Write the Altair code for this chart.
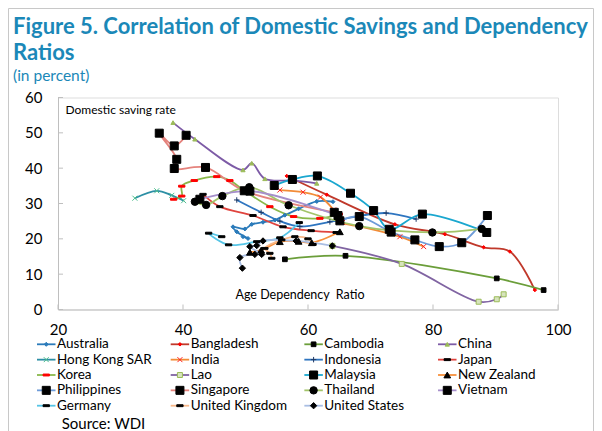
import altair as alt
import pandas as pd

SERIES = ["Australia", "Bangladesh", "Cambodia", "China",
          "Hong Kong SAR", "India", "Indonesia", "Japan",
          "Korea", "Lao", "Malaysia", "New Zealand",
          "Philippines", "Singapore", "Thailand", "Vietnam",
          "Germany", "United Kingdom", "United States"]

LINE_COLORS = ["#2b7bba", "#c0392b", "#6b9e3a", "#7d5ba6",
               "#2d8fa5", "#f28c38", "#2e75c0", "#e0443e",
               "#8ab84a", "#8064a2", "#1aa7cf", "#f7913d",
               "#6d9bd8", "#e5837d", "#a3c46a", "#a68fcb",
               "#56c5e6", "#f9b98a", "#a9bee3"]

DASH = "M-1,-0.3L1,-0.3L1,0.3L-1,0.3Z"
XMARK = "M-1,-1L1,1M-1,1L1,-1"
PLUS = "M-1,0L1,0M0,-1L0,1"

MARKER_SHAPES = ["diamond", "diamond", "square", "triangle-up",
                 XMARK, XMARK, PLUS, DASH,
                 DASH, "square", "square", "triangle-up",
                 "square", "square", "circle", "square",
                 DASH, DASH, "diamond"]
MARKER_FILLS = ["#2b7bba", "#ff0000", "#000000", "#9bbb59",
                "transparent", "transparent", "transparent", "#000000",
                "#ff0000", "#d7e4bd", "#000000", "#000000",
                "#000000", "#000000", "#000000", "#000000",
                "#000000", "#000000", "#000000"]
MARKER_STROKES = ["#2b7bba", "#ff0000", "#000000", "#9bbb59",
                  "#4fbf8f", "#ff2020", "#1f3864", "#000000",
                  "#ff0000", "#9bbb59", "#000000", "#000000",
                  "#000000", "#000000", "#000000", "#000000",
                  "#000000", "#000000", "#000000"]
MARKER_SIZES = [16, 12, 22, 18,
                25, 25, 30, 40,
                40, 25, 64, 45,
                64, 64, 55, 64,
                40, 40, 40]

# age dependency ratio (x) and domestic saving rate (y), in percent
AUSTRALIA_DEP = [64.0, 61.4, 58.5, 56.3, 54.7, 52.8, 51.0, 49.9, 48.0, 48.6, 50.4, 49.6]
AUSTRALIA_SAV = [30.5, 30.6, 28.5, 26.7, 25.3, 24.7, 24.1, 22.8, 23.4, 22.0, 20.1, 20.6]
BANGLADESH_DEP = [56.6, 63.0, 73.9, 81.9, 88.1, 92.3, 96.3]
BANGLADESH_SAV = [37.8, 32.5, 24.1, 21.3, 17.6, 16.4, 5.5]
CAMBODIA_DEP = [56.3, 66.0, 90.2, 97.7]
CAMBODIA_SAV = [14.2, 15.2, 8.8, 5.5]
CHINA_DEP = [38.4, 41.9, 49.6, 51.0, 53.1, 57.9, 61.4]
CHINA_SAV = [52.9, 48.2, 39.5, 41.4, 37.0, 36.5, 35.7]
HONGKONG_DEP = [32.3, 35.8, 38.2, 40.1]
HONGKONG_SAV = [31.5, 33.6, 32.3, 30.8]
INDIA_DEP = [55.5, 59.2, 62.0, 64.1, 65.5, 68.3, 74.7, 78.5]
INDIA_SAV = [33.8, 33.2, 31.8, 28.2, 24.6, 23.5, 20.6, 17.8]
INDONESIA_DEP = [48.6, 52.5, 55.5, 58.7, 63.5, 68.3, 72.5, 77.3]
INDONESIA_SAV = [31.0, 27.5, 25.0, 23.5, 24.8, 26.5, 27.3, 25.6]
JAPAN_DEP = [43.2, 45.9, 51.2, 56.0, 60.5, 64.5]
JAPAN_SAV = [32.6, 29.1, 26.6, 23.4, 22.3, 21.8]
KOREA_DEP = [38.5, 39.8, 39.8, 41.8, 45.4, 47.5, 49.7, 53.9, 57.7, 61.9, 65.0]
KOREA_SAV = [31.2, 32.1, 34.9, 36.5, 37.6, 36.5, 33.8, 29.1, 26.3, 25.8, 27.0]
LAO_DEP = [63.9, 75.0, 87.3, 90.2, 91.3]
LAO_SAV = [18.0, 12.9, 2.2, 2.9, 4.3]
MALAYSIA_DEP = [54.6, 57.5, 61.5, 66.8, 70.5, 73.0, 78.3, 88.6]
MALAYSIA_SAV = [35.1, 36.8, 37.8, 32.9, 28.0, 22.7, 27.0, 21.8]
NEWZEALAND_DEP = [50.7, 52.5, 55.5, 58.5, 60.6, 65.1]
NEWZEALAND_SAV = [16.2, 16.8, 19.2, 19.3, 18.9, 22.0]
PHILIPPINES_DEP = [65.1, 68.2, 73.3, 77.1, 81.0, 84.6, 88.7]
PHILIPPINES_SAV = [25.1, 26.3, 21.9, 19.7, 17.8, 18.9, 26.6]
SINGAPORE_DEP = [64.2, 49.8, 43.6, 38.6, 39.0, 36.2, 38.6, 40.5]
SINGAPORE_SAV = [27.5, 33.6, 40.2, 39.9, 42.5, 49.9, 46.3, 49.3]
THAILAND_DEP = [87.8, 79.9, 68.2, 56.9, 50.6, 46.3, 43.7, 41.9]
THAILAND_SAV = [22.8, 21.8, 23.6, 29.5, 34.6, 32.1, 29.6, 30.5]
VIETNAM_DEP = [42.7, 50.7, 64.8]
VIETNAM_SAV = [31.2, 33.5, 26.6]
GERMANY_DEP = [46.2, 44.1, 47.3, 51.8, 55.5, 58.6]
GERMANY_SAV = [20.6, 21.6, 18.3, 19.2, 20.3, 24.6]
UK_DEP = [54.2, 53.9, 53.1, 55.8, 57.9, 60.0, 60.8]
UK_SAV = [14.5, 15.9, 17.3, 19.7, 20.6, 20.0, 18.4]
US_DEP = [63.9, 58.1, 52.8, 51.8, 50.7, 52.6, 51.5, 49.1, 49.5]
US_SAV = [18.0, 19.4, 19.4, 18.1, 17.8, 15.6, 15.6, 14.7, 11.7]

X_TICKS = [20, 40, 60, 80, 100]
Y_TICKS = [0, 10, 20, 30, 40, 50, 60]

SERIES_DATA = [
    (AUSTRALIA_DEP, AUSTRALIA_SAV), (BANGLADESH_DEP, BANGLADESH_SAV),
    (CAMBODIA_DEP, CAMBODIA_SAV), (CHINA_DEP, CHINA_SAV),
    (HONGKONG_DEP, HONGKONG_SAV), (INDIA_DEP, INDIA_SAV),
    (INDONESIA_DEP, INDONESIA_SAV), (JAPAN_DEP, JAPAN_SAV),
    (KOREA_DEP, KOREA_SAV), (LAO_DEP, LAO_SAV),
    (MALAYSIA_DEP, MALAYSIA_SAV), (NEWZEALAND_DEP, NEWZEALAND_SAV),
    (PHILIPPINES_DEP, PHILIPPINES_SAV), (SINGAPORE_DEP, SINGAPORE_SAV),
    (THAILAND_DEP, THAILAND_SAV), (VIETNAM_DEP, VIETNAM_SAV),
    (GERMANY_DEP, GERMANY_SAV), (UK_DEP, UK_SAV), (US_DEP, US_SAV),
]

rows = []
for k, (name, (xs, ys)) in enumerate(zip(SERIES, SERIES_DATA)):
    for i, (xv, yv) in enumerate(zip(xs, ys)):
        rows.append({"series": name, "k": k, "i": i, "x": xv, "y": yv})
df = pd.DataFrame(rows)

legend_df = pd.DataFrame({
    "series": SERIES,
    "col": [k % 4 for k in range(len(SERIES))],
    "row": [k // 4 for k in range(len(SERIES))],
})

FONT = "Lato"
BLUE = "#1b88b8"
GRAY = "#bfbfbf"

xs = alt.Scale(domain=[20, 100], nice=False, zero=False)
ys = alt.Scale(domain=[0, 60], nice=False, zero=True)

x_axis = alt.Axis(values=X_TICKS, title="Age Dependency\u00a0 Ratio", titleX=177, titleY=-11.5,
                  titleAlign="left", titleBaseline="alphabetic", titleFontWeight="normal",
                  titleFontSize=12.5, titleColor="#000000", titleFont=FONT,
                  labelFontSize=15, labelColor="#000000", labelPadding=12.5, labelFlush=False,
                  labelOverlap=False, tickSize=0, ticks=False, grid=False,
                  domainColor=GRAY, labelFont=FONT)
y_axis = alt.Axis(values=Y_TICKS, title="Domestic saving rate", titleAngle=0, titleX=7, titleY=15.5,
                  titleAlign="left", titleBaseline="alphabetic", titleFontWeight="normal",
                  titleFontSize=12, titleColor="#000000", titleFont=FONT,
                  labelFontSize=15, labelColor="#000000", labelPadding=16, tickSize=0, ticks=False,
                  grid=False, domainColor=GRAY, labelFont=FONT)

X = alt.X("x:Q", scale=xs, axis=x_axis)
Y = alt.Y("y:Q", scale=ys, axis=y_axis)

color_s = alt.Color("series:N", scale=alt.Scale(domain=SERIES, range=LINE_COLORS), legend=None)
fill_s = alt.Fill("series:N", scale=alt.Scale(domain=SERIES, range=MARKER_FILLS), legend=None)
stroke_s = alt.Stroke("series:N", scale=alt.Scale(domain=SERIES, range=MARKER_STROKES), legend=None)
shape_s = alt.Shape("series:N", scale=alt.Scale(domain=SERIES, range=MARKER_SHAPES), legend=None)
size_s = alt.Size("series:N", scale=alt.Scale(type="ordinal", domain=SERIES, range=MARKER_SIZES), legend=None)

lines = alt.Chart(df).mark_line(interpolate="catmull-rom", strokeWidth=1.8).encode(
    x=X, y=Y, color=color_s, order="i:Q")
points = alt.Chart(df).mark_point(opacity=1, strokeWidth=1).encode(
    x=X, y=Y, fill=fill_s, stroke=stroke_s, shape=shape_s, size=size_s)

xt = alt.Chart(pd.DataFrame({"x": X_TICKS})).mark_rule(color=GRAY, strokeWidth=1).encode(
    x=X, y=alt.value(212), y2=alt.value(207))
yt = alt.Chart(pd.DataFrame({"y": Y_TICKS})).mark_rule(color=GRAY, strokeWidth=1).encode(
    y=Y, x=alt.value(0), x2=alt.value(5))

main = alt.layer(xt, yt, lines, points)

lx = alt.X("col:Q", scale=alt.Scale(domain=[0, 4], range=[-21, 513.7], nice=False, zero=False), axis=None)
ly = alt.Y("row:Q", scale=alt.Scale(domain=[0, 5], range=[246.8, 323.55], nice=False, zero=False), axis=None)

lrule = alt.Chart(legend_df).mark_rule(strokeWidth=1.8, x2Offset=18.5).encode(
    x=lx, x2="col:Q", y=ly, color=color_s)
lpts = alt.Chart(legend_df).mark_point(opacity=1, strokeWidth=1, xOffset=9.25).encode(
    x=lx, y=ly, fill=fill_s, stroke=stroke_s, shape=shape_s, size=size_s)
ltext = alt.Chart(legend_df).mark_text(align="left", baseline="middle", dx=20, fontSize=13.5,
                                       font=FONT, color="#000000").encode(
    x=lx, y=ly, text="series:N")
source = alt.Chart(pd.DataFrame({"t": ["Source: WDI"]})).mark_text(
    align="left", baseline="alphabetic", fontSize=15, font=FONT, color="#000000").encode(
    text="t:N", x=alt.value(3.7), y=alt.value(331))

# light grey frame around the whole figure
frame = alt.Chart(pd.DataFrame({"t": ["frame"]})).mark_rect(
    fill="transparent", stroke="#c8c8c8", strokeWidth=1).encode(
    x=alt.value(-49.5), x2=alt.value(535.5), y=alt.value(-89), y2=alt.value(340))

legend = alt.layer(lrule, lpts, ltext, source, frame)

chart = alt.layer(main, legend).resolve_scale(x="independent", y="independent").properties(
    width=500, height=212,
    autosize=alt.AutoSizeParams(type="none"),
    padding={"left": 50, "top": 89.5, "right": 36, "bottom": 121.5},
    title=alt.TitleParams(
        text=["Figure 5. Correlation of Domestic Savings and Dependency", "Ratios"],
        subtitle=["(in percent)"], anchor="start", frame="group", dx=-45,
        font=FONT, fontSize=22, fontWeight="bold", color=BLUE, lineHeight=26,
        subtitleFont=FONT, subtitleFontSize=15.5, subtitleColor=BLUE, subtitlePadding=4,
        offset=-77),
).configure_view(stroke=GRAY, strokeWidth=1).configure(font=FONT)

chart.save("out.html", embed_options={"renderer": "svg", "actions": False})
